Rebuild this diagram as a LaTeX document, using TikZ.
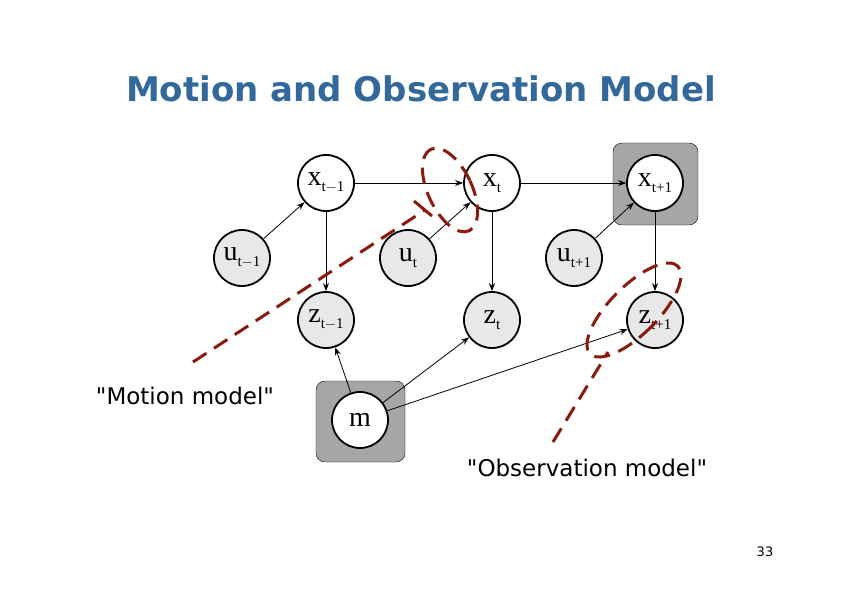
\documentclass[tikz,border=0pt]{standalone}
\usepackage{fontspec}
\setmainfont{DejaVu Sans}[Ligatures=TeXOff]
\newfontfamily\serifnode{Liberation Serif}
\usetikzlibrary{arrows.meta}
\definecolor{titleblue}{HTML}{32689A}
\definecolor{dashred}{HTML}{8B1A0E}
\newcommand{\idx}[1]{\raisebox{-6pt}{\fontsize{15}{15}\selectfont #1}}
\tikzset{
  var/.style={circle,draw=black,line width=1.8pt,fill=gray!18,minimum size=56pt,inner sep=0pt,font=\serifnode\fontsize{28}{28}\selectfont},
  obsvar/.style={var,fill=white},
  dep/.style={-{Stealth[length=8pt]},line width=0.8pt},
  cut/.style={dashred,line width=3pt,dash pattern=on 16pt off 9pt},
  backing/.style={fill=gray!70,draw=black,line width=0.4pt,rounded corners=9pt}
}
\begin{document}
\begin{tikzpicture}[x=1pt,y=-1pt]
\useasboundingbox (0,0) rectangle (842,595);
\node[font=\bfseries\fontsize{34}{34}\selectfont,text=titleblue] (title) at (421,89) {Motion and Observation Model};
\fill[backing] (613,143) rectangle (698,225);
\fill[backing] (316,381) rectangle (405,462);
\node[obsvar] (x0) at (326,183) {x\idx{t$-$1}};
\node[obsvar] (x1) at (492,183) {x\idx{t}};
\node[obsvar] (x2) at (655,183) {x\idx{t+1}};
\node[var] (u0) at (242,258) {u\idx{t$-$1}};
\node[var] (u1) at (408,258) {u\idx{t}};
\node[var] (u2) at (574,258) {u\idx{t+1}};
\node[var] (z0) at (326,320) {z\idx{t$-$1}};
\node[var] (z1) at (492,320) {z\idx{t}};
\node[var] (z2) at (655,320) {z\idx{t+1}};
\node[obsvar] (m) at (360,420) {m};
\draw[dep] (x0) -- (x1);
\draw[dep] (x1) -- (x2);
\draw[dep] (u0) -- (x0);
\draw[dep] (u1) -- (x1);
\draw[dep] (u2) -- (x2);
\draw[dep] (x0) -- (z0);
\draw[dep] (x1) -- (z1);
\draw[dep] (x2) -- (z2);
\draw[dep] (m) -- (z0);
\draw[dep] (m) -- (z1);
\draw[dep] (m) -- (z2);
% motion model cut
\coordinate (mstart) at (193,362);
\coordinate (mend) at (425,210);
\draw[cut] (mstart) -- (mend);
\draw[dashred,line width=3pt] (414,201) -- (432,216);
\draw[cut,rotate around={25:(450,190)}] (450,190) ellipse (22 and 45);
% observation model cut
\coordinate (ostart) at (553,442);
\coordinate (oend) at (608,352);
\draw[cut] (ostart) -- (oend);
\draw[cut,rotate around={-45:(634,310)}] (634,310) ellipse (24 and 62);
\node[font=\fontsize{23}{23}\selectfont] (mlabel) at (185,396) {"Motion model"};
\node[font=\fontsize{23}{23}\selectfont] (olabel) at (587,468) {"Observation model"};
\node[font=\fontsize{13}{13}\selectfont] (page) at (765,552) {33};
\end{tikzpicture}
\end{document}
